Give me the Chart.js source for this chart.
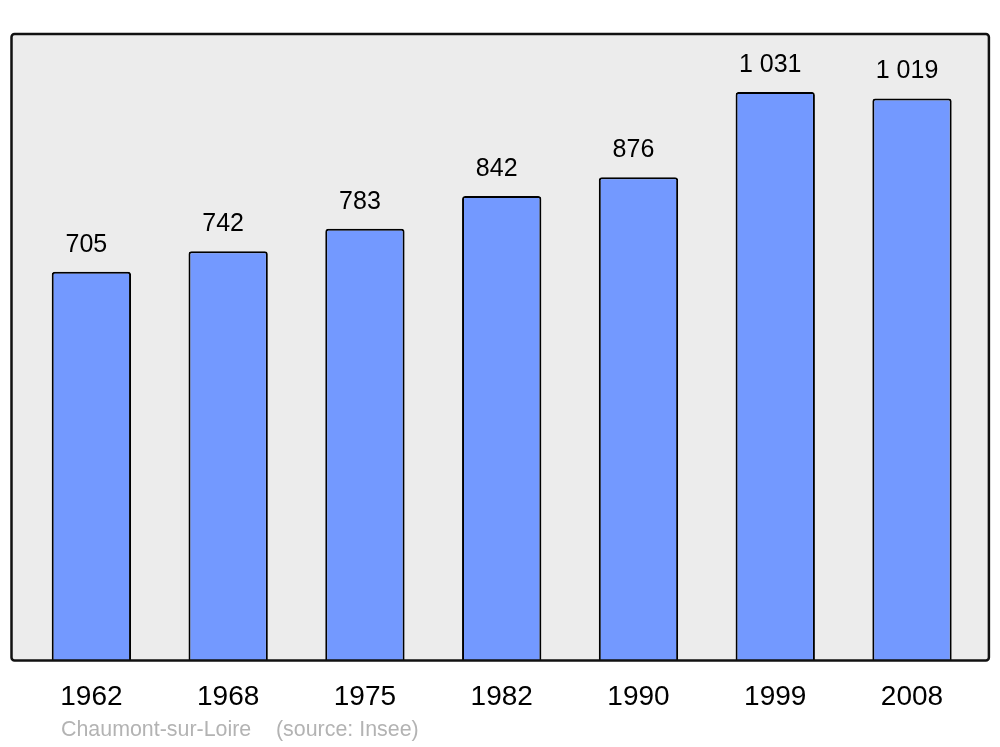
<!DOCTYPE html>
<html>
<head>
<meta charset="utf-8">
<script src="https://cdn.jsdelivr.net/npm/chart.js@4"></script>
<style>
  html, body { margin: 0; padding: 0; background: #ffffff; }
  #wrap { width: 1000px; height: 747px; }
</style>
</head>
<body>
<div id="wrap"><canvas id="myChart"></canvas></div>
<script>
// population data
const years = ['1962', '1968', '1975', '1982', '1990', '1999', '2008'];
const population = [705, 742, 783, 842, 876, 1031, 1019];
const commune = 'Chaumont-sur-Loire';
const source = '(source: Insee)';

function fmt(v) {
    return String(v).replace(/\B(?=(\d{3})+(?!\d))/g, ' ');
}

// grey panel behind the bars
const panel = {
    id: 'panel',
    beforeDatasetsDraw(chart) {
        const a = chart.chartArea;
        const c = chart.ctx;
        const x0 = a.left - 11.5, x1 = a.right + 8.5;
        c.save();
        c.beginPath();
        c.roundRect(x0, a.top, x1 - x0, a.bottom - a.top, 3);
        c.fillStyle = '#ececec';
        c.fill();
        c.restore();
    },
    afterDatasetsDraw(chart) {
        const a = chart.chartArea;
        const c = chart.ctx;
        const x0 = a.left - 11.5, x1 = a.right + 8.5;
        c.save();
        c.beginPath();
        c.roundRect(x0, a.top, x1 - x0, a.bottom - a.top, 3);
        c.lineWidth = 2.5;
        c.strokeStyle = '#111111';
        c.stroke();

        // value labels
        const meta = chart.getDatasetMeta(0);
        c.fillStyle = '#000000';
        c.font = '25px "Liberation Sans", Arial, sans-serif';
        c.textAlign = 'center';
        c.textBaseline = 'middle';
        meta.data.forEach((bar, i) => {
            c.fillText(fmt(population[i]), bar.x - 5, bar.y - 27);
        });

        // footer
        c.fillStyle = '#b3b3b3';
        c.font = '21.4px "Liberation Sans", Arial, sans-serif';
        c.textAlign = 'left';
        c.fillText(commune, 61, 730);
        c.fillText(source, 276, 730);
        c.restore();
    }
};

const ctx = document.getElementById('myChart');
const myChart = new Chart(ctx, {
    type: 'bar',
    data: {
        labels: years,
        datasets: [{
            data: population,
            backgroundColor: '#7399ff',
            borderColor: '#000000',
            borderWidth: 2,
            borderSkipped: 'bottom',
            borderRadius: { topLeft: 3, topRight: 3 },
            barPercentage: 0.58,
            categoryPercentage: 1
        }]
    },
    options: {
        responsive: true,
        maintainAspectRatio: false,
        animation: false,
        layout: { padding: { left: 23, right: 19.6, top: 34, bottom: 13 } },
        plugins: {
            legend: { display: false },
            tooltip: { enabled: false }
        },
        scales: {
            x: {
                grid: { display: false, drawTicks: false },
                border: { display: false },
                ticks: {
                    color: '#000000',
                    padding: 20,
                    font: { size: 28, family: '"Liberation Sans", Arial, sans-serif' }
                }
            },
            y: {
                display: false,
                min: 0,
                max: 1136
            }
        }
    },
    plugins: [panel]
});
</script>
</body>
</html>
